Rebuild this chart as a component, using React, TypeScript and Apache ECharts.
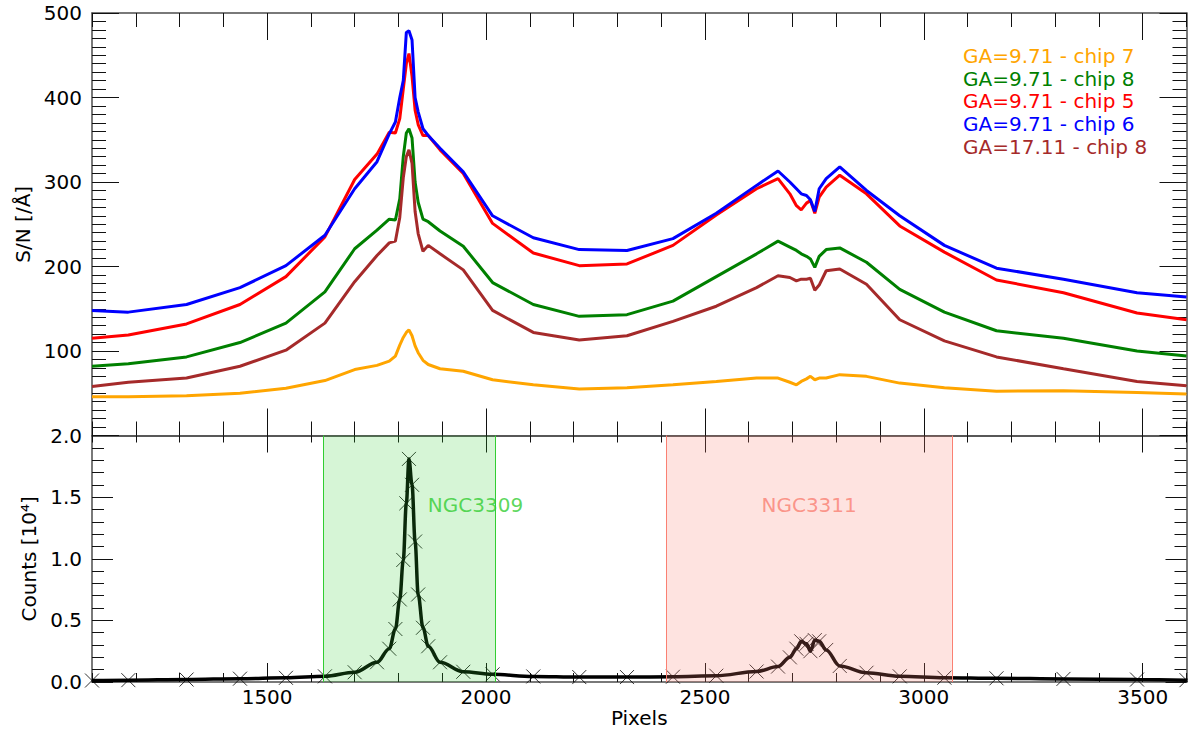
import React, { useEffect, useRef } from "react";
import * as echarts from "echarts";

// ---------- data ----------
const PIXELS = [1100, 1183, 1316, 1438, 1543, 1632, 1700, 1751, 1779, 1793, 1803, 1811, 1818, 1824, 1831, 1838, 1845, 1856, 1868, 1895, 1948, 2015, 2108, 2213, 2322, 2427, 2526, 2618, 2667, 2694, 2709, 2720, 2732, 2741, 2751, 2761, 2777, 2808, 2869, 2945, 3047, 3166, 3319, 3487, 3600];

const SN_GA971_CHIP7 = [46, 46, 47, 50, 56, 65, 78, 83, 88, 94, 107, 116, 122, 125, 118, 106, 98, 89, 84, 79, 76, 66, 60, 55, 56.5, 60, 64, 68, 68, 63, 60, 64, 67, 70, 66, 68, 68, 72, 70, 62, 56.5, 52.5, 53, 51, 49];
const SN_GA971_CHIP8 = [82, 85, 93, 110, 133, 170, 221, 243, 256, 255, 280, 330, 358, 363, 352, 300, 276, 256, 253, 242, 224, 181, 155, 141, 143, 159, 188, 215, 230, 223, 219, 215, 212, 209, 199, 212, 220, 222, 205, 173, 146, 124, 115, 100, 94];
const SN_GA971_CHIP5 = [115, 119, 132, 155, 188, 235, 303, 333, 359, 358, 375, 410, 440, 452, 425, 385, 368, 355, 355, 338, 310, 251, 216, 201, 203, 225, 261, 292, 304, 286, 272, 267, 275, 278, 263, 282, 294, 308, 286, 248, 217, 184, 169, 145, 137];
const SN_GA971_CHIP6 = [148, 146, 155, 175, 201, 237, 292, 324, 357, 371, 400, 420, 477, 479, 468, 400, 383, 363, 355, 340, 312, 260, 234, 220, 219, 233, 263, 296, 313, 300, 292, 286, 284, 279, 265, 292, 304, 318, 290, 260, 225, 198, 185, 169, 164];
const SN_GA1711_CHIP8 = [58, 63, 68, 82, 101, 133, 182, 213, 228, 230, 258, 305, 330, 338, 322, 265, 239, 218, 225, 215, 196, 148, 122, 113, 118, 135, 153, 175, 189, 187, 183, 185, 185, 186, 172, 178, 195, 197, 179, 137, 112, 93, 79, 64, 59];

const COUNTS_1E4 = [0.012, 0.015, 0.02, 0.027, 0.034, 0.046, 0.079, 0.16, 0.27, 0.43, 0.67, 0.99, 1.45, 1.81, 1.6, 1.14, 0.71, 0.44, 0.29, 0.16, 0.083, 0.062, 0.045, 0.04, 0.04, 0.043, 0.051, 0.085, 0.125, 0.2, 0.27, 0.33, 0.31, 0.25, 0.34, 0.33, 0.26, 0.13, 0.075, 0.046, 0.035, 0.03, 0.025, 0.02, 0.015];

const X_MAJOR_TICKS = [1500, 2000, 2500, 3000, 3500];
const X_RANGE = [1100, 3600];
const SN_RANGE = [0, 500];
const COUNTS_RANGE = [0, 2];

const GALAXY_NAMES = ["NGC3309", "NGC3311"];
const GALAXY_BANDS = [
  [1628, 2022],
  [2412, 3064],
];
const GALAXY_LABEL_AT = [
  [1866, 1.436],
  [2738, 1.436],
];

const SN_SERIES = [
  { name: "GA=9.71 - chip 7", color: "#FFA500", values: SN_GA971_CHIP7 },
  { name: "GA=9.71 - chip 8", color: "#008000", values: SN_GA971_CHIP8 },
  { name: "GA=9.71 - chip 5", color: "#FF0000", values: SN_GA971_CHIP5 },
  { name: "GA=9.71 - chip 6", color: "#0000FF", values: SN_GA971_CHIP6 },
  { name: "GA=17.11 - chip 8", color: "#A52A2A", values: SN_GA1711_CHIP8 },
];

const FONT = "DejaVu Sans";
const SPINE = { show: true, lineStyle: { color: "#4d4d4d", width: 1.5 } };
const TICKC = { color: "#111", width: 1 };

function xAxes(gridIndex: number, position: "top" | "bottom", majorLen: number, minorLen: number, withLabels: boolean) {
  const major: any = {
    type: "value",
    gridIndex,
    position,
    min: X_RANGE[0],
    max: X_RANGE[1],
    axisLine: SPINE,
    splitLine: { show: false },
    axisTick: { show: true, inside: true, length: majorLen, lineStyle: TICKC, customValues: X_MAJOR_TICKS },
    axisLabel: withLabels
      ? {
          show: true,
          customValues: X_MAJOR_TICKS,
          fontSize: 20,
          fontFamily: FONT,
          color: "#000",
          margin: 5,
          formatter: (v: number) => String(v),
        }
      : { show: false },
  };
  if (withLabels) {
    major.name = "Pixels";
    major.nameLocation = "middle";
    major.nameGap = 26;
    major.nameTextStyle = { fontSize: 20, fontFamily: FONT, color: "#000" };
  }
  const minor = {
    type: "value",
    gridIndex,
    position,
    min: X_RANGE[0],
    max: X_RANGE[1],
    interval: 100,
    axisLine: { show: false },
    splitLine: { show: false },
    axisTick: { show: true, inside: true, length: minorLen, lineStyle: TICKC },
    axisLabel: { show: false },
  };
  return [major, minor];
}

export default function App() {
  const ref = useRef<HTMLDivElement>(null);

  useEffect(() => {
    if (!ref.current) return;
    const chart = echarts.init(ref.current, undefined, { renderer: "svg" });

    const xs = [
      ...xAxes(0, "bottom", 27, 14, false),
      ...xAxes(0, "top", 27, 14, false),
      ...xAxes(1, "bottom", 19, 9, true),
      ...xAxes(1, "top", 17, 7, false),
    ];

    const ys: any[] = [
      {
        type: "value",
        gridIndex: 0,
        position: "left",
        min: SN_RANGE[0],
        max: SN_RANGE[1],
        interval: 100,
        axisLine: SPINE,
        splitLine: { show: false },
        axisTick: { show: true, inside: true, length: 27, lineStyle: TICKC },
        minorTick: { show: true, splitNumber: 10, length: 14, lineStyle: TICKC },
        axisLabel: {
          fontSize: 20,
          fontFamily: FONT,
          color: "#000",
          margin: 10,
          formatter: (v: number) => (v === 0 ? "" : String(v)),
        },
        name: "S/N [/Å]",
        nameLocation: "middle",
        nameGap: 58,
        nameTextStyle: { fontSize: 20, fontFamily: FONT, color: "#000" },
      },
      {
        type: "value",
        gridIndex: 0,
        position: "right",
        min: SN_RANGE[0],
        max: SN_RANGE[1],
        interval: 100,
        axisLine: SPINE,
        splitLine: { show: false },
        axisTick: { show: true, inside: true, length: 27, lineStyle: TICKC },
        minorTick: { show: true, splitNumber: 10, length: 14, lineStyle: TICKC },
        axisLabel: { show: false },
      },
      {
        type: "value",
        gridIndex: 1,
        position: "left",
        min: COUNTS_RANGE[0],
        max: COUNTS_RANGE[1],
        interval: 0.5,
        axisLine: SPINE,
        splitLine: { show: false },
        axisTick: { show: true, inside: true, length: 21, lineStyle: TICKC },
        minorTick: { show: true, splitNumber: 5, length: 12, lineStyle: TICKC },
        axisLabel: {
          fontSize: 20,
          fontFamily: FONT,
          color: "#000",
          margin: 10,
          formatter: (v: number) => v.toFixed(1),
        },
        name: "Counts [10⁴]",
        nameLocation: "middle",
        nameGap: 52,
        nameTextStyle: { fontSize: 20, fontFamily: FONT, color: "#000" },
      },
      {
        type: "value",
        gridIndex: 1,
        position: "right",
        min: COUNTS_RANGE[0],
        max: COUNTS_RANGE[1],
        interval: 0.5,
        axisLine: SPINE,
        splitLine: { show: false },
        axisTick: { show: true, inside: true, length: 21, lineStyle: TICKC },
        minorTick: { show: true, splitNumber: 5, length: 12, lineStyle: TICKC },
        axisLabel: { show: false },
      },
    ];

    const snSeries = SN_SERIES.map((s) => ({
      name: s.name,
      type: "line",
      xAxisIndex: 0,
      yAxisIndex: 0,
      showSymbol: false,
      symbol: "none",
      lineStyle: { color: s.color, width: 3 },
      itemStyle: { color: s.color },
      data: PIXELS.map((x, i) => [x, s.values[i]]),
      z: 2,
    }));

    const countsData = PIXELS.map((x, i) => [x, COUNTS_1E4[i]]);
    const bandColors = ["rgba(50,205,50,0.2)", "rgba(250,128,114,0.22)"];
    const edgeColors = ["#32CD32", "#FA8072"];
    const labelColors = ["#32CD32", "#FA8072"];

    const option: any = {
      animation: false,
      grid: [
        { left: 92, top: 13, width: 1094.5, height: 422.5 },
        { left: 92, top: 435.5, width: 1094.5, height: 247.5 },
      ],
      xAxis: xs,
      yAxis: ys,
      legend: {
        orient: "vertical",
        left: 952,
        top: 39.5,
        itemWidth: 0,
        itemHeight: 0,
        itemGap: 0,
        selectedMode: false,
        textStyle: { fontSize: 20, fontFamily: FONT, lineHeight: 22.75 },
        data: SN_SERIES.map((s) => ({ name: s.name, textStyle: { color: s.color } })),
      },
      series: [
        ...snSeries,
        {
          name: "counts",
          type: "line",
          xAxisIndex: 4,
          yAxisIndex: 2,
          showSymbol: false,
          symbol: "none",
          smooth: 0.35,
          smoothMonotone: "x",
          lineStyle: { color: "#000", width: 3.5 },
          data: countsData,
          z: 2,
        },
        {
          name: "counts points",
          type: "scatter",
          xAxisIndex: 4,
          yAxisIndex: 2,
          symbol: "path://M0 0L10 10M10 0L0 10",
          symbolSize: 14,
          itemStyle: { color: "none", borderColor: "#000", borderWidth: 1 },
          data: countsData,
          z: 2,
        },
        {
          name: "bands",
          type: "line",
          xAxisIndex: 4,
          yAxisIndex: 2,
          showSymbol: false,
          symbol: "none",
          lineStyle: { opacity: 0, width: 0 },
          data: countsData,
          z: 6,
          markArea: {
            silent: true,
            z: 10,
            label: { show: false },
            data: GALAXY_BANDS.map((b, i) => [
              { xAxis: b[0], itemStyle: { color: bandColors[i], borderWidth: 0 } },
              { xAxis: b[1] },
            ]),
          },
          markLine: {
            silent: true,
            z: 10,
            symbol: "none",
            label: { show: false },
            data: GALAXY_BANDS.flatMap((b, i) =>
              b.map((x) => ({ xAxis: x, lineStyle: { color: edgeColors[i], width: 1, type: "solid" } }))
            ),
          },
        },
        ...GALAXY_NAMES.map((n, i) => ({
          name: n,
          type: "scatter",
          xAxisIndex: 4,
          yAxisIndex: 2,
          symbolSize: 1,
          itemStyle: { color: "rgba(0,0,0,0)" },
          z: 12,
          data: [GALAXY_LABEL_AT[i]],
          label: {
            show: true,
            position: i === 0 ? "right" : "inside",
            distance: 0,
            formatter: n,
            color: labelColors[i],
            fontSize: 20,
            fontFamily: FONT,
          },
        })),
      ],
    };

    chart.setOption(option);
    return () => chart.dispose();
  }, []);

  return (
    <div
      ref={ref}
      style={{ position: "fixed", left: 0, top: 0, width: 1188, height: 729, background: "#fff" }}
    />
  );
}
